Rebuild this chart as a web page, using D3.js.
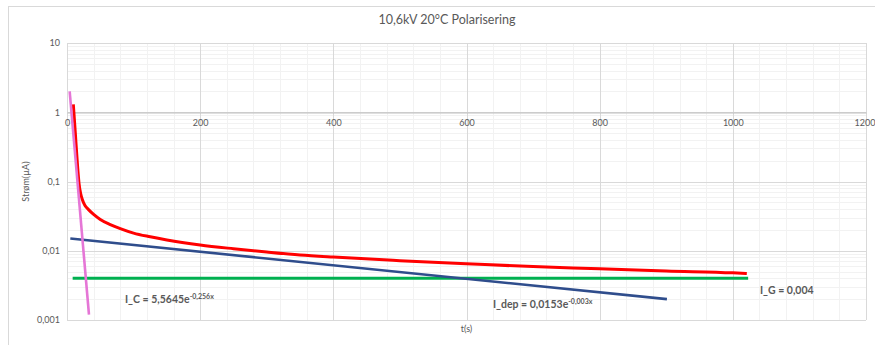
<!DOCTYPE html>
<html>
<head>
<meta charset="utf-8">
<script src="https://cdn.jsdelivr.net/npm/d3@7"></script>
<style>
  html, body { margin: 0; padding: 0; background: #fff; }
  svg { display: block; font-family: Lato, "Liberation Sans", sans-serif; }
</style>
</head>
<body>
<svg id="chart" width="875" height="345"></svg>
<script>
// Measured polarisation current, 10,6 kV at 20 °C
const measTime = [9.5, 11, 12.5, 14, 16, 18, 20.5, 23, 27, 32, 40, 50, 65, 80, 100, 125, 150, 200, 250, 300, 350, 400, 500, 600, 700, 800, 900, 1000, 1021];
const measCurrent = [1.30, 0.80, 0.50, 0.30, 0.16, 0.095, 0.067, 0.055, 0.045, 0.0396, 0.0335, 0.0283, 0.0239, 0.0209, 0.0180, 0.0159, 0.0143, 0.0121, 0.0107, 0.0096, 0.0087, 0.0081, 0.0072, 0.0065, 0.0059, 0.0055, 0.0051, 0.0048, 0.0047];

// Capacitive component fit: I_C = a * e^(b t)
const capCoef = [5.5645, -0.256];
const capRange = [4, 33];

// Depolarisation trend line (start / end points)
const depTime = [5, 901];
const depCurrent = [0.0150, 0.0020];

// Conduction current level
const condLevel = [0.004];
const condRange = [8.5, 1023];

// Axis ticks
const xTicks = [0, 200, 400, 600, 800, 1000, 1200];
const xTickLabels = ["0", "200", "400", "600", "800", "1000", "1200"];
const yTicks = [0.001, 0.01, 0.1, 1, 10];
const yTickLabels = ["0,001", "0,01", "0,1", "1", "10"];

const svg = d3.select("#chart");
const plotL = 67, plotR = 866, plotT = 43, plotB = 320;

const x = d3.scaleLinear().domain([0, 1200]).range([plotL, plotR]);
const y = d3.scaleLog().domain([0.001, 10]).range([plotB, plotT]);

// chart frame
svg.append("rect")
  .attr("x", 8.5).attr("y", 6.5).attr("width", 880).attr("height", 360)
  .attr("fill", "#fff").attr("stroke", "#d9d9d9").attr("stroke-width", 1);

// title
svg.append("text")
  .attr("x", 447).attr("y", 24)
  .attr("text-anchor", "middle")
  .attr("fill", "#595959")
  .attr("font-size", 12.5)
  .text("10,6kV 20°C Polarisering");

const grid = svg.append("g");

// minor horizontal grid (2..9 of each decade)
const minorY = [];
for (let d = -3; d < 1; d++) {
  for (let m = 2; m <= 9; m++) minorY.push(m * Math.pow(10, d));
}
grid.selectAll("line.minY").data(minorY).join("line")
  .attr("x1", plotL).attr("x2", plotR)
  .attr("y1", d => Math.round(y(d)) + 0.5).attr("y2", d => Math.round(y(d)) + 0.5)
  .attr("stroke", "#f2f2f2");

// minor vertical grid every 40 s
const minorX = d3.range(0, 1201, 40).filter(v => v % 200 !== 0);
grid.selectAll("line.minX").data(minorX).join("line")
  .attr("y1", plotT).attr("y2", plotB)
  .attr("x1", d => Math.round(x(d)) + 0.5).attr("x2", d => Math.round(x(d)) + 0.5)
  .attr("stroke", "#f2f2f2");

// major grid
grid.selectAll("line.majY").data(yTicks).join("line")
  .attr("x1", plotL).attr("x2", plotR)
  .attr("y1", d => Math.round(y(d)) + 0.5).attr("y2", d => Math.round(y(d)) + 0.5)
  .attr("stroke", "#d9d9d9");
grid.selectAll("line.majX").data(xTicks).join("line")
  .attr("y1", plotT).attr("y2", plotB)
  .attr("x1", d => Math.round(x(d)) + 0.5).attr("x2", d => Math.round(x(d)) + 0.5)
  .attr("stroke", "#d9d9d9");

// y axis
const yAxis = d3.axisLeft(y)
  .tickValues(yTicks)
  .tickFormat((d, i) => yTickLabels[i])
  .tickSize(0).tickPadding(7);
const gy = svg.append("g").attr("transform", `translate(${plotL},0)`).call(yAxis);
gy.select(".domain").attr("stroke", "#d9d9d9");
gy.selectAll("text").attr("fill", "#595959").attr("font-size", 9).attr("font-family", "Lato, sans-serif");

// x axis, crossing at I = 1
const xAxis = d3.axisBottom(x)
  .tickValues(xTicks)
  .tickFormat((d, i) => xTickLabels[i])
  .tickSize(0).tickPadding(7);
const gx = svg.append("g").attr("transform", `translate(0,${Math.round(y(1)) + 0.5})`).call(xAxis);
gx.select(".domain").attr("stroke", "#bfbfbf").attr("stroke-width", 1.2);
gx.selectAll("text").attr("fill", "#595959").attr("font-size", 9).attr("font-family", "Lato, sans-serif");
// keep the last label inside the frame
gx.selectAll(".tick").filter(d => d === 1200).select("text").attr("text-anchor", "end").attr("dx", 9);

// axis titles
svg.append("text")
  .attr("transform", `translate(29,${(plotT + plotB) / 2}) rotate(-90)`)
  .attr("text-anchor", "middle")
  .attr("fill", "#595959").attr("font-size", 9)
  .text("Strøm(µA)");
svg.append("text")
  .attr("x", (plotL + plotR) / 2).attr("y", 332)
  .attr("text-anchor", "middle")
  .attr("fill", "#595959").attr("font-size", 9)
  .text("t(s)");

const line = d3.line().x(d => x(d[0])).y(d => y(d[1]));

// conduction level
svg.append("path")
  .datum(condRange.map(t => [t, condLevel[0]]))
  .attr("d", line)
  .attr("fill", "none").attr("stroke", "#00b050").attr("stroke-width", 3);

// depolarisation trend
svg.append("path")
  .datum(depTime.map((t, i) => [t, depCurrent[i]]))
  .attr("d", line)
  .attr("fill", "none").attr("stroke", "#2f4d8c").attr("stroke-width", 2.6);

// measured current
const smooth = d3.line().x(d => x(d[0])).y(d => y(d[1])).curve(d3.curveMonotoneX);
svg.append("path")
  .datum(measTime.map((t, i) => [t, measCurrent[i]]))
  .attr("d", smooth)
  .attr("fill", "none").attr("stroke", "#ff0000").attr("stroke-width", 3)
  .attr("stroke-linejoin", "round");

// capacitive fit
svg.append("path")
  .datum(capRange.map(t => [t, capCoef[0] * Math.exp(capCoef[1] * t)]))
  .attr("d", line)
  .attr("fill", "none").attr("stroke", "#e576d6").attr("stroke-width", 2.6);

// equation labels
function eqLabel(px, py, main, sup) {
  const t = svg.append("text")
    .attr("x", px).attr("y", py)
    .attr("fill", "#595959").attr("font-size", 10.5).attr("font-weight", "bold");
  t.append("tspan").text(main);
  if (sup) t.append("tspan").attr("font-size", 7).attr("dy", -4).text(sup);
}
eqLabel(125, 303, "I_C = 5,5645e", "-0,256x");
eqLabel(493, 308, "I_dep = 0,0153e", "-0,003x");
eqLabel(760, 294, "I_G = 0,004", null);
</script>
</body>
</html>
